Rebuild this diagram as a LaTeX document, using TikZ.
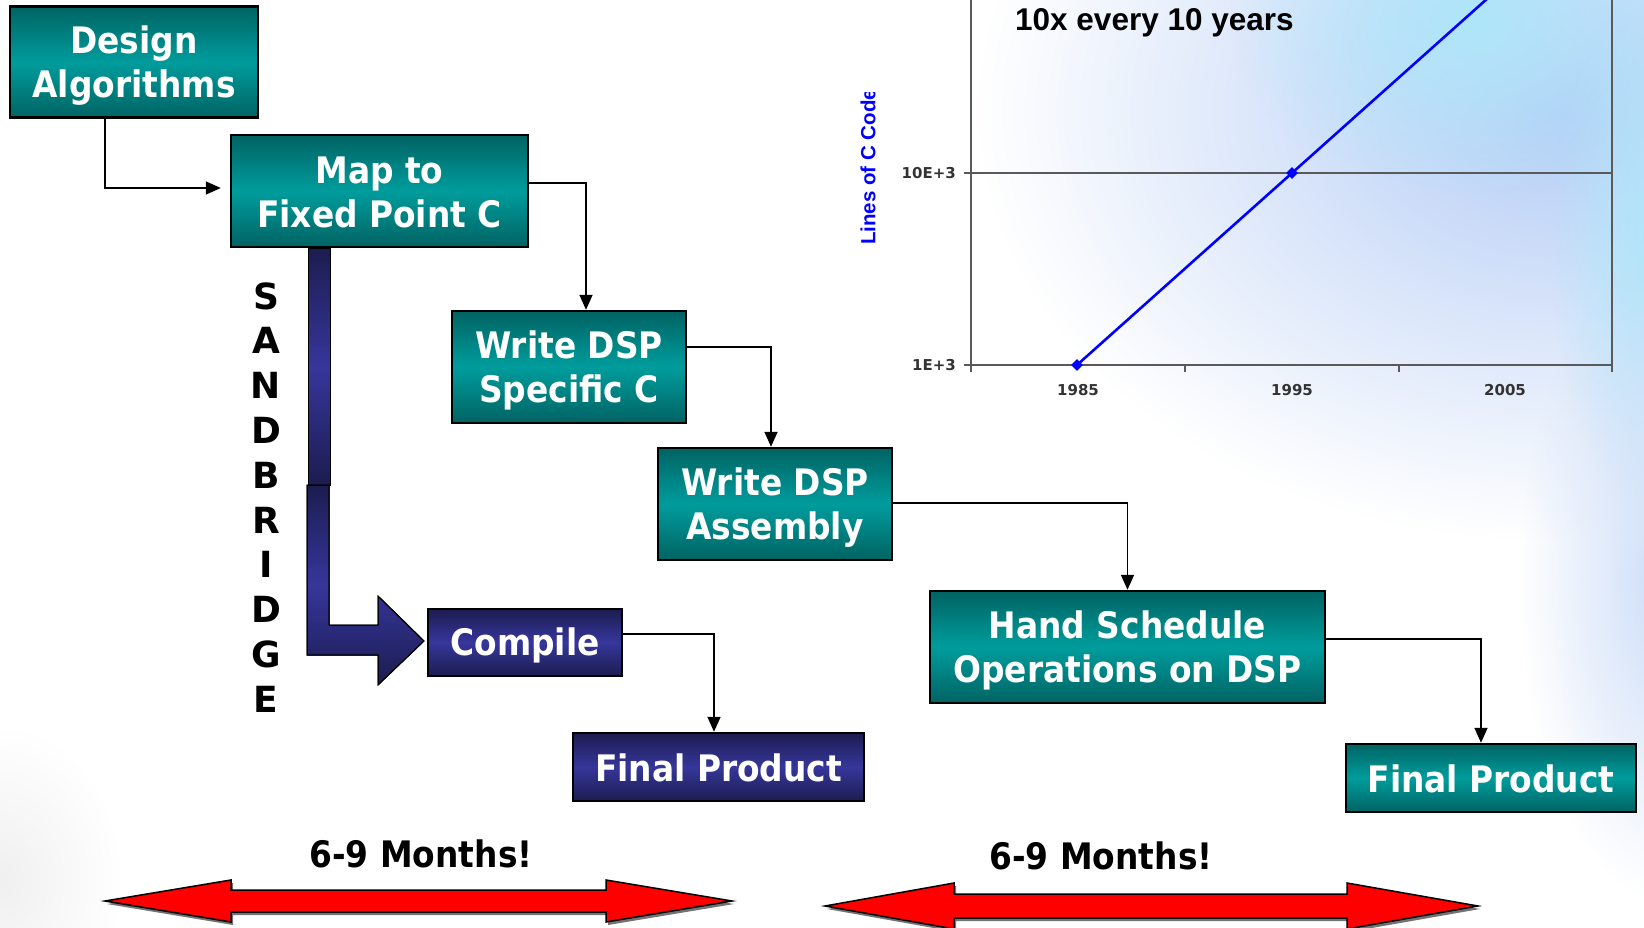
\documentclass[tikz,border=0pt]{standalone}
\usepackage{fontspec}
\setmainfont{DejaVu Sans}
\newfontfamily\arialf{Liberation Sans}
\newfontfamily\boxfont[FakeStretch=0.9]{DejaVu Sans}
\usetikzlibrary{arrows.meta,shapes.geometric,fadings}
\definecolor{tealD}{HTML}{006363}
\definecolor{tealM}{HTML}{009c9c}
\definecolor{navyD}{HTML}{1c1c50}
\definecolor{navyM}{HTML}{36369c}
\definecolor{axisgray}{HTML}{5a5a5a}
\definecolor{labgray}{HTML}{333333}
\definecolor{bgblue}{HTML}{a8c4f4}
\definecolor{bgcyan}{HTML}{aee6fa}
\definecolor{arrred}{HTML}{FF0000}
\tikzfading[name=softfade, inner color=transparent!0, outer color=transparent!100]
\newcommand\st{\rule[-5pt]{0pt}{39pt}}
\begin{document}
\begin{tikzpicture}[x=1pt,y=-1pt,
  procbox/.style={draw=black,line width=2.4pt,top color=tealD,bottom color=tealD,middle color=tealM,
    text=white,font=\boxfont\bfseries\fontsize{36.5}{44}\selectfont,align=center,inner sep=0pt},
  navybox/.style={procbox,top color=navyD,bottom color=navyD,middle color=navyM},
  conn/.style={line width=1.6pt,-{Triangle[length=15pt,width=13pt]}},
  letter/.style={font=\bfseries\fontsize{36}{36}\selectfont,inner sep=0pt},
  axisline/.style={draw=axisgray,line width=1.4pt},
  axlab/.style={font=\bfseries\fontsize{15}{15}\selectfont,text=labgray,inner sep=0pt},
  months/.style={font=\boxfont\bfseries\fontsize{36.5}{36}\selectfont,inner sep=0pt,anchor=base},
  redarrow/.style={fill=arrred,draw=black,line width=1.5pt,line join=miter},
  fatarrow/.style={draw=black,line width=1pt,top color=navyD,bottom color=navyD,middle color=navyM}]
\useasboundingbox (0,0) rectangle (1644,928);
\clip (0,0) rectangle (1644,928);
\fill[white] (0,0) rectangle (1644,928);
% background tint
\fill[bgblue!85, path fading=softfade] (1560,110) ellipse (580 and 430);
\fill[bgcyan, path fading=softfade] (1470,20) ellipse (240 and 180);
\fill[bgcyan, path fading=softfade] (1660,240) ellipse (110 and 280);
\fill[bgblue!60, path fading=softfade] (1670,580) ellipse (150 and 320);
\fill[black!6, path fading=softfade] (0,880) ellipse (120 and 150);

% chart
\draw[axisline] (971,0) -- (971,365) -- (1612,365) -- (1612,0);
\draw[axisline] (971,173) -- (1612,173);
\draw[axisline] (964,173) -- (971,173);
\draw[axisline] (964,365) -- (971,365);
\foreach \tx in {971,1185,1399,1612} \draw[axisline] (\tx,365) -- (\tx,372);
\node[axlab,anchor=east] (y10) at (956,173) {10E+3};
\node[axlab,anchor=east] (y1) at (956,365) {1E+3};
\node[axlab] (x85) at (1078,390) {1985};
\node[axlab] (x95) at (1292,390) {1995};
\node[axlab] (x05) at (1505,390) {2005};
\begin{scope}
\clip (840,93) rectangle (900,270);
\node[font=\arialf\bfseries\fontsize{20.5}{20.5}\selectfont,text=blue,rotate=90,anchor=west,inner sep=0pt] (ylab) at (868,245) {Lines of C Code};
\end{scope}
\coordinate (p85) at (1077,365);
\coordinate (p95) at (1292,173);
\coordinate (p05) at (1507,-19);
\draw[blue,line width=2.6pt] (p85) -- (p95) -- (p05);
\node[diamond,fill=blue,inner sep=0pt,minimum size=12pt] (m85) at (p85) {};
\node[diamond,fill=blue,inner sep=0pt,minimum size=12pt] (m95) at (p95) {};
\node[font=\arialf\bfseries\fontsize{31.5}{31.5}\selectfont,anchor=west,inner sep=0pt] (title) at (1015,23) {10x every 10 years};

% process boxes
\node[procbox,minimum width=248pt,minimum height=111pt] (des) at (134,62) {\st Design\\\st Algorithms};
\node[procbox,minimum width=297pt,minimum height=112pt] (map) at (379.5,191) {\st Map to\\\st Fixed Point C};
\node[procbox,minimum width=234pt,minimum height=112pt] (wc) at (569,367) {\st Write DSP\\\st Specific C};
\node[procbox,minimum width=234pt,minimum height=112pt] (asm) at (775,504) {\st Write DSP\\\st Assembly};
\node[procbox,minimum width=395pt,minimum height=112pt] (hand) at (1127.5,647) {\st Hand Schedule\\\st Operations on DSP};
\node[procbox,minimum width=290pt,minimum height=68pt] (finr) at (1491,778) {\st Final Product};
\node[navybox,minimum width=194pt,minimum height=67pt] (comp) at (525,642.5) {\st Compile};
\node[navybox,minimum width=291pt,minimum height=68pt] (finl) at (718.5,767) {\st Final Product};

% sandbridge fat arrow
\fill[fatarrow] (308,249) rectangle (330,485);
\fill[fatarrow] (307,485) -- (329,485) -- (329,625) -- (378,625) -- (378,596) -- (424,641)
  -- (378,685) -- (378,655) -- (307,655) -- cycle;
\draw[black,line width=1pt] (308,249) rectangle (330,485);
\draw[black,line width=1pt] (307,485) -- (329,485) -- (329,625) -- (378,625) -- (378,596) -- (424,641)
  -- (378,685) -- (378,655) -- (307,655) -- cycle;

% SANDBRIDGE letters
\foreach \l [count=\i from 0] in {S,A,N,D,B,R,I,D,G,E}
  \node[letter] (sb\i) at (266,{296+44.8*\i}) {\l};

% connectors
\draw[conn,shorten >=9pt] ([xshift=-29pt]des.south) |- ([yshift=3pt]map.west);
\draw[conn] ([yshift=8pt]map.east) -| ([xshift=17pt]wc.north);
\draw[conn] ([yshift=20pt]wc.east) -| ([xshift=-4pt]asm.north);
\draw[conn] ([yshift=1pt]asm.east) -| (hand.north);
\draw[conn] ([yshift=8pt]hand.east) -| ([xshift=-10pt]finr.north);
\draw[conn] ([yshift=8.5pt]comp.east) -| ([xshift=-4.5pt]finl.north);

% month arrows
\begin{scope}[shift={(2,3)}]
\fill[black!55] (105,901) -- (231,880) -- (231,890) -- (606,890) -- (606,880) -- (732,901)
  -- (606,922) -- (606,912) -- (231,912) -- (231,922) -- cycle;
\fill[black!55] (825,906) -- (954,883) -- (954,894) -- (1347,894) -- (1347,883) -- (1478,906)
  -- (1347,929) -- (1347,918) -- (954,918) -- (954,929) -- cycle;
\end{scope}
\filldraw[redarrow] (105,901) -- (231,880) -- (231,890) -- (606,890) -- (606,880) -- (732,901)
  -- (606,922) -- (606,912) -- (231,912) -- (231,922) -- cycle;
\filldraw[redarrow] (825,906) -- (954,883) -- (954,894) -- (1347,894) -- (1347,883) -- (1478,906)
  -- (1347,929) -- (1347,918) -- (954,918) -- (954,929) -- cycle;
\node[months] (m1) at (421,867) {6-9 Months!};
\node[months] (m2) at (1101,869) {6-9 Months!};
\end{tikzpicture}
\end{document}
